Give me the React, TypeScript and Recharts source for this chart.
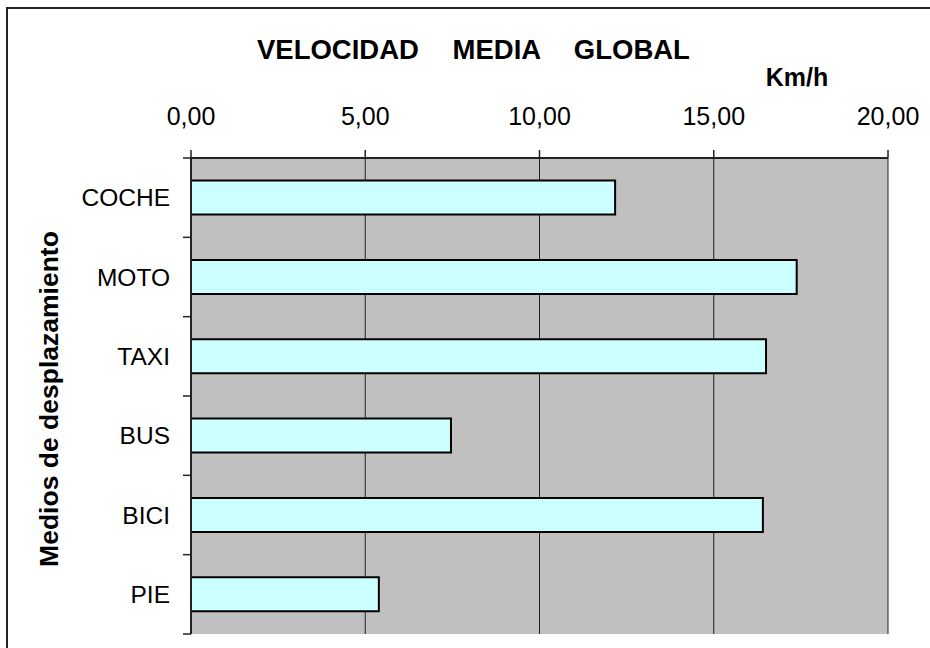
import React from 'react';
import { BarChart, Bar, XAxis, YAxis, CartesianGrid } from 'recharts';

const categories = ['COCHE', 'MOTO', 'TAXI', 'BUS', 'BICI', 'PIE'];
const speeds = [12.17, 17.38, 16.5, 7.46, 16.41, 5.39];
const xTicks = [0, 5, 10, 15, 20];

const data = categories.map((name, i) => ({ name, speed: speeds[i] }));

const W = 930;
const H = 648;
const PLOT_TOP = 158;
const PLOT_LEFT = 191;
const PLOT_RIGHT = 888;
const PLOT_BOTTOM = 634;
const BAND = (PLOT_BOTTOM - PLOT_TOP) / categories.length;
const FONT = '"Liberation Sans", Arial, sans-serif';

const fmt = (v: number) => v.toFixed(2).replace('.', ',');

function CatTick(props: any) {
  const { x, y, payload, index } = props;
  const axisX = x + 21;
  const last = index === categories.length - 1;
  return (
    <g>
      <line x1={axisX - 8} x2={axisX} y1={y - BAND / 2} y2={y - BAND / 2} stroke="#222" strokeWidth={1.5} />
      {last && (
        <line x1={axisX - 8} x2={axisX} y1={y + BAND / 2} y2={y + BAND / 2} stroke="#222" strokeWidth={1.5} />
      )}
      <text x={x} y={y} dy="0.35em" textAnchor="end" fontSize={24.5} fill="#000" fontFamily={FONT}>
        {payload.value}
      </text>
    </g>
  );
}

export default function App() {
  return (
    <div style={{ position: 'absolute', left: 0, top: 0, width: W, height: H, overflow: 'hidden', background: '#fff' }}>
      <div style={{ position: 'absolute', left: 6, top: 7, width: W, height: H, borderLeft: '2px solid #222', borderTop: '2px solid #222' }} />
      <BarChart
        width={W}
        height={H}
        data={data}
        layout="vertical"
        margin={{ top: 0, right: W - PLOT_RIGHT, bottom: H - PLOT_BOTTOM, left: 0 }}
        barCategoryGap="28.5%"
        style={{ position: 'absolute', left: 0, top: 0, fontFamily: FONT }}
      >
        <CartesianGrid horizontal={false} fill="#c0c0c0" stroke="#222" strokeWidth={1} />
        <XAxis
          type="number"
          orientation="top"
          domain={[0, 20]}
          ticks={xTicks}
          tickFormatter={fmt}
          height={PLOT_TOP}
          tickSize={8}
          tickMargin={25}
          interval={0}
          axisLine={{ stroke: '#222', strokeWidth: 2 }}
          tickLine={{ stroke: '#222', strokeWidth: 1.5 }}
          tick={{ fontSize: 25, fill: '#000', fontFamily: FONT }}
        />
        <XAxis
          xAxisId="b"
          type="number"
          orientation="bottom"
          domain={[0, 20]}
          height={0}
          tick={false}
          tickLine={false}
          axisLine={{ stroke: '#858585', strokeWidth: 2 }}
        />
        <YAxis
          type="category"
          dataKey="name"
          width={PLOT_LEFT}
          tickSize={8}
          tickMargin={13}
          tickLine={false}
          interval={0}
          axisLine={{ stroke: '#222', strokeWidth: 2 }}
          tick={(p: any) => <CatTick {...p} />}
        />
        <YAxis
          yAxisId="r"
          type="category"
          dataKey="name"
          orientation="right"
          width={0}
          tick={false}
          tickLine={false}
          axisLine={{ stroke: '#858585', strokeWidth: 2 }}
        />
        <Bar dataKey="speed" fill="#ccffff" stroke="#000" strokeWidth={2} isAnimationActive={false} />
      </BarChart>
      <svg width={W} height={H} style={{ position: 'absolute', left: 0, top: 0, pointerEvents: 'none' }}>
        <text x={257} y={59} fontSize={27.5} fontWeight="bold" wordSpacing={26} fontFamily={FONT} fill="#000">
          VELOCIDAD MEDIA GLOBAL
        </text>
        <text x={797} y={86} fontSize={25} fontWeight="bold" textAnchor="middle" fontFamily={FONT} fill="#000">
          Km/h
        </text>
        <text
          x={58}
          y={399}
          transform="rotate(-90, 58, 399)"
          textAnchor="middle"
          fontSize={26.5}
          fontWeight="bold"
          fontFamily={FONT}
          fill="#000"
        >
          Medios de desplazamiento
        </text>
      </svg>
    </div>
  );
}
